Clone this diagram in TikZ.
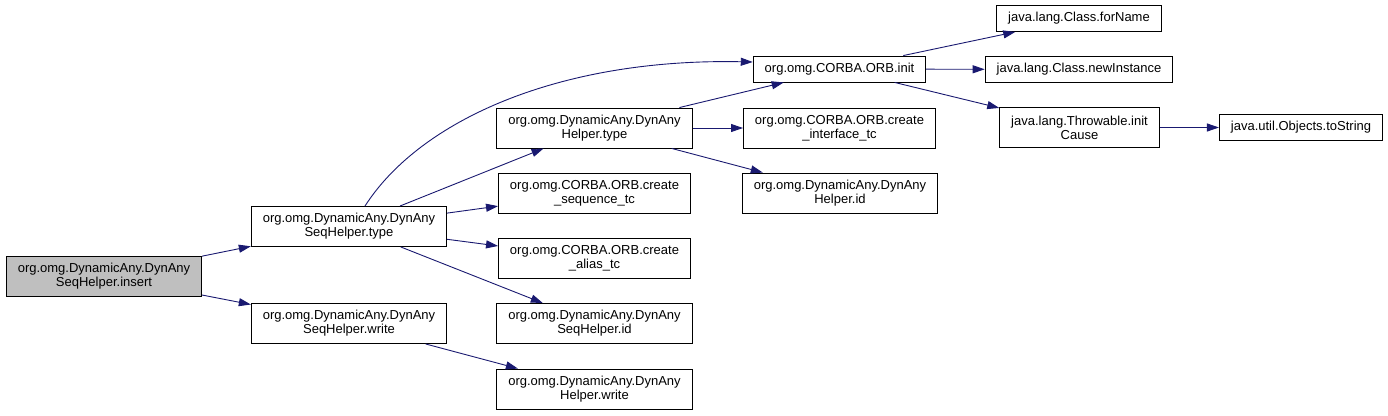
\documentclass[tikz,border=0pt]{standalone}
\usepackage{fontspec}
\setmainfont{Liberation Sans}
\usepackage{xcolor}
\usepackage{tikz}
\usetikzlibrary{arrows.meta}
\definecolor{callblue}{HTML}{191970}
\definecolor{curfill}{HTML}{BFBFBF}

\begin{document}
\begin{tikzpicture}[x=1pt,y=-1pt,>={Triangle[length=12pt,width=8pt]},
  fn/.style={draw=black,line width=0.9pt,fill=white,align=center,inner xsep=11.5pt,inner ysep=2pt,font=\fontsize{13}{14}\selectfont},
  fntwo/.style={fn,minimum height=40pt},
  fnone/.style={fn,minimum height=26pt},
  call/.style={->,callblue,line width=0.9pt}]
  \useasboundingbox (0,0) rectangle (1388,415);
  % columns: 104, 349, 594.5, 839.5, 1079, 1301
  \node[fntwo,fill=curfill] (insert) at (104,276) {org.omg.DynamicAny.DynAny\\SeqHelper.insert};
  \node[fntwo] (stype) at (349,226.5) {org.omg.DynamicAny.DynAny\\SeqHelper.type};
  \node[fntwo] (swrite) at (349,323.5) {org.omg.DynamicAny.DynAny\\SeqHelper.write};
  \node[fntwo] (htype) at (594.5,128) {org.omg.DynamicAny.DynAny\\Helper.type};
  \node[fntwo] (seqtc) at (594.5,193) {org.omg.CORBA.ORB.create\\\_sequence\_tc};
  \node[fntwo] (aliastc) at (594.5,258.5) {org.omg.CORBA.ORB.create\\\_alias\_tc};
  \node[fntwo] (sid) at (594.5,323.5) {org.omg.DynamicAny.DynAny\\SeqHelper.id};
  \node[fntwo] (hwrite) at (594.5,389) {org.omg.DynamicAny.DynAny\\Helper.write};
  \node[fnone] (init) at (839.5,69) {org.omg.CORBA.ORB.init};
  \node[fntwo] (ifacetc) at (839.5,128) {org.omg.CORBA.ORB.create\\\_interface\_tc};
  \node[fntwo] (hid) at (840,193) {org.omg.DynamicAny.DynAny\\Helper.id};
  \node[fnone] (forname) at (1079,18.5) {java.lang.Class.forName};
  \node[fnone] (newinst) at (1079,69.5) {java.lang.Class.newInstance};
  \node[fntwo] (initcause) at (1079.5,127.5) {java.lang.Throwable.init\\Cause};
  \node[fnone] (tostring) at (1301,127.5) {java.util.Objects.toString};

  \draw[call] (insert) -- (stype);
  \draw[call] (insert) -- (swrite);
  \draw[call] ([xshift=16pt]stype.north) .. controls +(55,-86) and +(-193,-4) .. ([yshift=7pt]init.west);
  \draw[call] (stype) -- (htype);
  \draw[call] (stype) -- (seqtc);
  \draw[call] (stype) -- (aliastc);
  \draw[call] (stype) -- (sid);
  \draw[call] (swrite) -- (hwrite);
  \draw[call] (htype) -- (init);
  \draw[call] (htype) -- (ifacetc);
  \draw[call] (htype) -- (hid);
  \draw[call] (init) -- (forname);
  \draw[call] (init) -- (newinst);
  \draw[call] (init) -- (initcause);
  \draw[call] (initcause) -- (tostring);
\end{tikzpicture}
\end{document}
